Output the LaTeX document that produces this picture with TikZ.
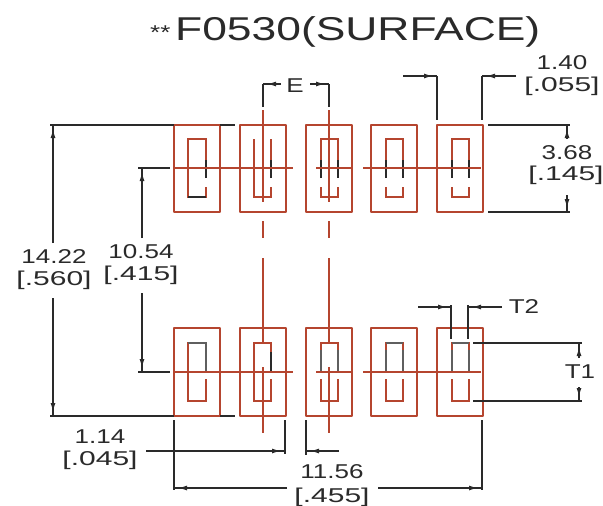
\documentclass[tikz,border=0pt]{standalone}
\usepackage{fontspec}
\setmainfont{Liberation Sans}
\usetikzlibrary{arrows.meta,decorations.markings}
\definecolor{brick}{HTML}{B5452F}
\definecolor{dim}{HTML}{2A2A2A}
\newcommand{\wtxt}[1]{\scalebox{1.3}[1]{#1}}
\newcommand{\btxt}[1]{\scalebox{1.5}[1]{#1}}
\tikzset{
  x=1pt,y=-1pt,
  padbox/.style={draw=brick,line width=2.1pt,line join=round},
  slot/.style={draw=brick,line width=1.8pt},
  centre/.style={draw=brick,line width=2.1pt},
  dimline/.style={draw=dim,line width=1.4pt},
  graytop/.style={draw=dim!75,line width=1.7pt},
  blackseg/.style={draw=dim,line width=1.7pt},
  headend/.style={postaction={decorate},decoration={markings,mark=at position -4pt with {\arrow[fill=dim,draw=dim]{Latex[length=9pt,width=5pt]}}}},
  label/.style={font=\fontsize{20}{22}\selectfont,text=dim,inner sep=0pt,align=center},
}
\begin{document}
\begin{tikzpicture}
\useasboundingbox (0,0) rectangle (603,506);
% title
\node[inner sep=0pt,text=dim,anchor=base west] (stars) at (150,39) {\scalebox{1.3}[1]{\fontsize{20}{22}\selectfont **}};
\node[inner sep=0pt,text=dim,anchor=base west] (title) at (175,40) {\scalebox{1.345}[1]{\fontsize{33}{36}\selectfont F0530(SURFACE)}};
% pads
\foreach \p in {174,240,306,371,437}{
  \draw[padbox] (\p,125) rectangle (\p+46,212);
  \draw[padbox] (\p,328) rectangle (\p+46,416);
}
% top row slots
\draw[slot] (206,178) -- (206,139) -- (188,139) -- (188,197) -- (206,197) -- (206,187);
\draw[slot] (254,139) -- (254,197) -- (271,197) -- (271,187);
\draw[slot] (271,178) -- (271,139);
\foreach \p in {306,371,437}{
  \draw[slot] (\p+15,178) -- (\p+15,139) -- (\p+32,139) -- (\p+32,178);
  \draw[slot] (\p+15,187) -- (\p+15,197) -- (\p+32,197) -- (\p+32,187);
}
% bottom row slots
\draw[slot] (206,372) -- (206,343) -- (188,343) -- (188,401) -- (206,401) -- (206,379);
\draw[slot] (271,372) -- (271,343) -- (254,343) -- (254,401) -- (271,401) -- (271,379);
\foreach \p in {306,371,437}{
  \draw[slot] (\p+15,372) -- (\p+15,343) -- (\p+32,343) -- (\p+32,372);
  \draw[slot] (\p+15,379) -- (\p+15,401) -- (\p+32,401) -- (\p+32,379);
}
% dark parts of the slots
\draw[blackseg] (206,160) -- (206,178);
\draw[blackseg] (271,160) -- (271,178);
\foreach \p in {306,371,437}{
  \draw[blackseg] (\p+15,160) -- (\p+15,178);
  \draw[blackseg] (\p+32,160) -- (\p+32,178);
}
\draw[blackseg] (188,197) -- (206,197);
\draw[graytop] (188,343) -- (206,343) -- (206,372);
\draw[blackseg] (271,352) -- (271,372);
\foreach \p in {306,371,437}{
  \draw[graytop] (\p+15,350) -- (\p+15,372);
  \draw[graytop] (\p+32,350) -- (\p+32,372);
}
\foreach \p in {371,437}{\draw[graytop] (\p+15,343) -- (\p+32,343);}
% centre lines
\draw[centre] (174,168) -- (293,168);
\draw[centre] (316,168) -- (352,168);
\draw[centre] (363,168) -- (481,168);
\draw[centre] (174,372) -- (293,372);
\draw[centre] (316,372) -- (352,372);
\draw[centre] (363,372) -- (481,372);
\foreach \c in {263,329}{
  \draw[centre] (\c,110) -- (\c,202);
  \draw[centre] (\c,221) -- (\c,238);
  \draw[centre] (\c,258) -- (\c,344);
  \draw[centre] (\c,367) -- (\c,433);
}
% 14.22
\draw[dimline] (50,125) -- (174,125);
\draw[dimline] (220,125) -- (235,125);
\draw[dimline] (50,416) -- (174,416);
\draw[dimline] (220,416) -- (235,416);
\draw[dimline,headend] (53,243) -- (53,125);
\draw[dimline,headend] (53,298) -- (53,416);
\node[label] (a1) at (54,257) {\wtxt{14.22}};
\node[label] (a2) at (54,280) {\btxt{[.560]}};
% 10.54
\draw[dimline] (138,168) -- (170,168);
\draw[dimline] (138,372) -- (170,372);
\draw[dimline,headend] (142,238) -- (142,168);
\draw[dimline,headend] (142,293) -- (142,372);
\node[label] (b1) at (141,252) {\wtxt{10.54}};
\node[label] (b2) at (141,275) {\btxt{[.415]}};
% E
\draw[dimline] (263,107) -- (263,84);
\draw[dimline] (329,107) -- (329,84);
\draw[dimline,headend] (281,84) -- (263,84);
\draw[dimline,headend] (310,84) -- (329,84);
\node[label] (e) at (295,86) {\wtxt{E}};
% 1.40
\draw[dimline] (437,76) -- (437,120);
\draw[dimline] (482,76) -- (482,120);
\draw[dimline,headend] (403,76) -- (437,76);
\draw[dimline,headend] (516,76) -- (482,76);
\node[label] (c1) at (562,63) {\wtxt{1.40}};
\node[label] (c2) at (562,86) {\btxt{[.055]}};
% 3.68
\draw[dimline] (488,125) -- (570,125);
\draw[dimline] (488,212) -- (570,212);
\draw[dimline,headend] (567,139) -- (567,125);
\draw[dimline,headend] (567,195) -- (567,212);
\node[label] (d1) at (567,153) {\wtxt{3.68}};
\node[label] (d2) at (566,175) {\btxt{[.145]}};
% T2
\draw[dimline] (451,305) -- (451,339);
\draw[dimline] (468,305) -- (468,339);
\draw[dimline,headend] (418,307) -- (451,307);
\draw[dimline,headend] (502,307) -- (468,307);
\node[label] (t2) at (524,307) {\wtxt{T2}};
% T1
\draw[dimline] (473,343) -- (582,343);
\draw[dimline] (473,401) -- (582,401);
\draw[dimline,headend] (579,358) -- (579,343);
\draw[dimline,headend] (579,387) -- (579,401);
\node[label] (t1) at (580,372) {\wtxt{T1}};
% 1.14
\draw[dimline] (285,420) -- (285,454);
\draw[dimline] (306,420) -- (306,455);
\draw[dimline,headend] (146,451) -- (285,451);
\draw[dimline,headend] (339,451) -- (306,451);
\node[label] (f1) at (100,437) {\wtxt{1.14}};
\node[label] (f2) at (100,460) {\btxt{[.045]}};
% 11.56
\draw[dimline] (174,420) -- (174,490);
\draw[dimline] (482,420) -- (482,490);
\draw[dimline,headend] (287,488) -- (174,488);
\draw[dimline,headend] (378,488) -- (482,488);
\node[label] (g1) at (332,472) {\wtxt{11.56}};
\node[label] (g2) at (332,497) {\btxt{[.455]}};
\end{tikzpicture}
\end{document}
